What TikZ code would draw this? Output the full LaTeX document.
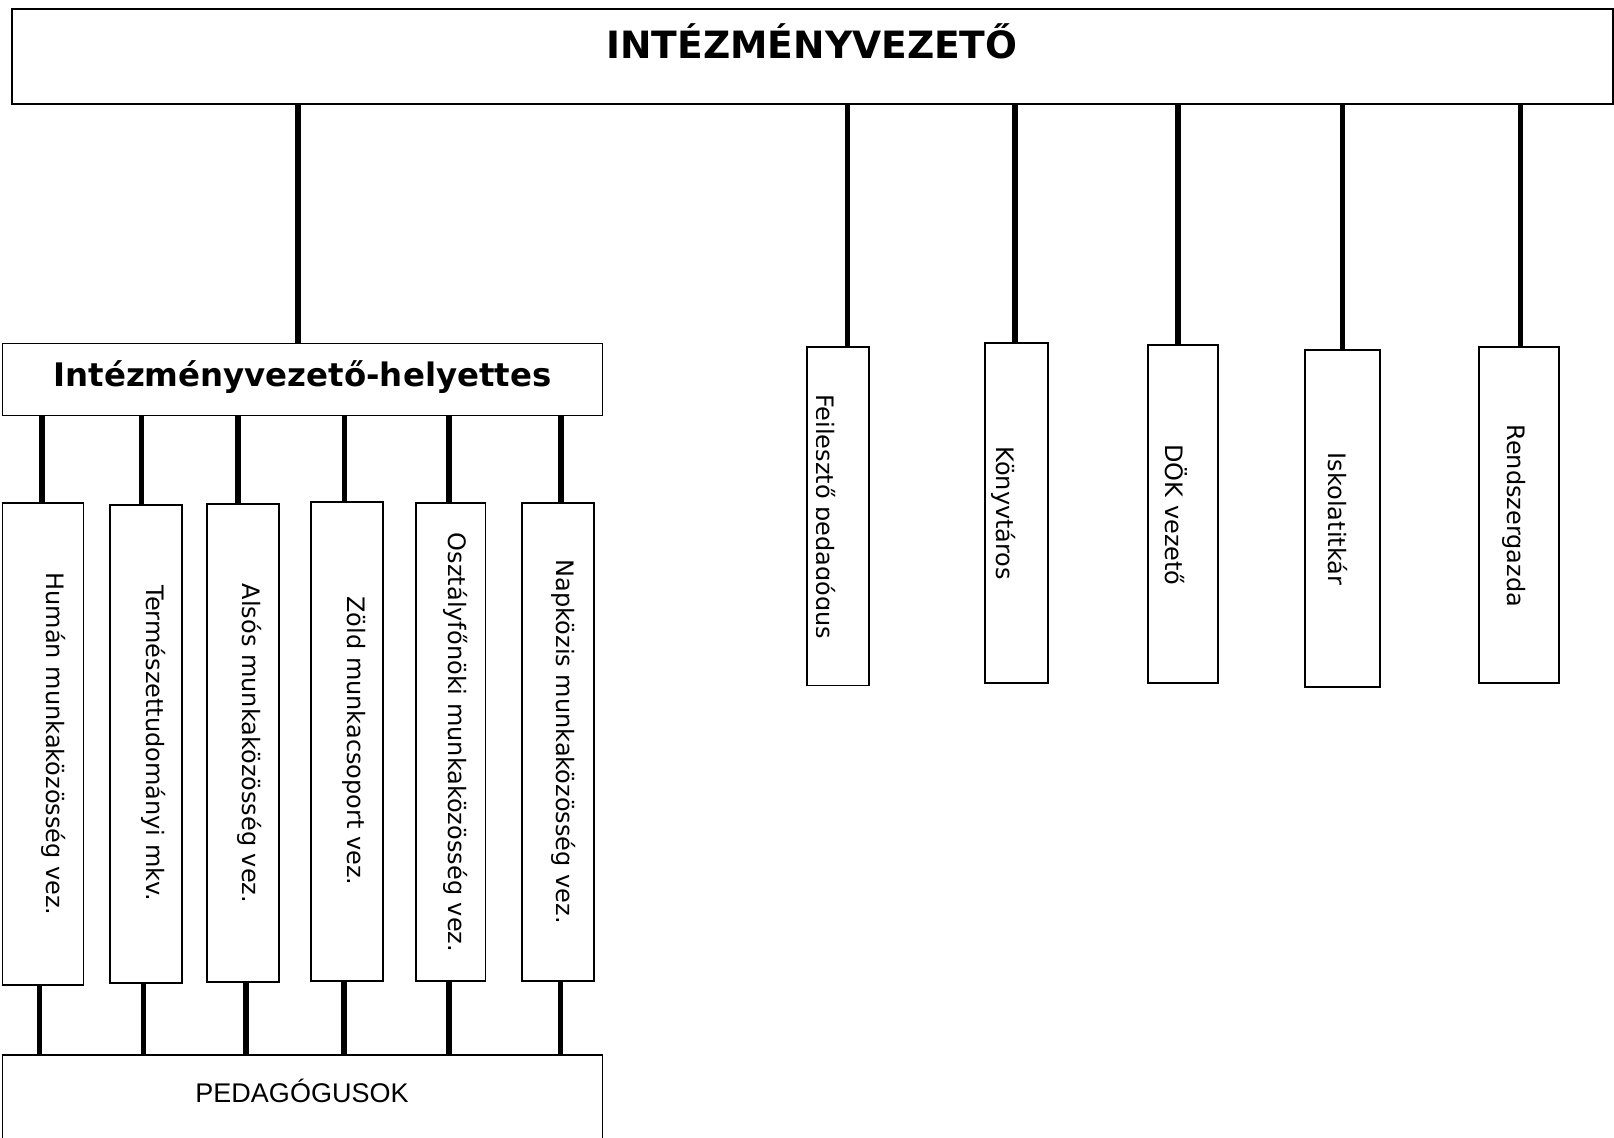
\documentclass[tikz,border=0pt]{standalone}
\usepackage{fontspec}
\setmainfont{DejaVu Sans}
\newfontfamily\pedfont{Liberation Sans}
\begin{document}
\begin{tikzpicture}[x=0.5pt,y=-0.5pt,
  box/.style={draw, line width=0.9pt, inner sep=0pt, outer sep=0pt, anchor=north west},
  conn/.style={line width=2.6pt},
  vtext/.style={rotate=-90, anchor=base, inner sep=0pt, font=\fontsize{12}{14}\selectfont}]
\useasboundingbox (0,0) rectangle (1614,1137);

% boxes
\node[box, minimum width=800.5pt, minimum height=47.8pt] (top) at (12,8.7) {};
\node[box, minimum width=300pt, minimum height=36pt] (hely) at (2.5,343.5) {};
\node[box, minimum width=40.5pt, minimum height=241.15pt] (b1) at (2.5,502.7) {};
\node[box, minimum width=36pt, minimum height=239pt] (b2) at (110,504.7) {};
\node[box, minimum width=36pt, minimum height=239pt] (b3) at (207,504) {};
\node[box, minimum width=36pt, minimum height=239.5pt] (b4) at (311,502) {};
\node[box, minimum width=34.75pt, minimum height=239.15pt] (b5) at (416,502.7) {};
\node[box, minimum width=36pt, minimum height=239.15pt] (b6) at (522,502.7) {};
\node[box, minimum width=300pt, minimum height=45pt] (ped) at (2.5,1055) {};
\node[box, minimum width=31.15pt, minimum height=169.4pt] (r1) at (806.7,346.7) {};
\node[box, minimum width=31.65pt, minimum height=170pt] (r2) at (985,343.3) {};
\node[box, minimum width=35pt, minimum height=169.15pt] (r3) at (1148.3,345) {};
\node[box, minimum width=37.65pt, minimum height=168.3pt] (r4) at (1305,350) {};
\node[box, minimum width=40.15pt, minimum height=168.3pt] (r5) at (1478.7,346.7) {};

% texts
\node[anchor=base, inner sep=0pt, font=\fontsize{18.8}{22}\selectfont\bfseries] (ttop) at (812,58.7) {INTÉZMÉNYVEZETŐ};
\node[anchor=base, inner sep=0pt, font=\fontsize{16.2}{19}\selectfont\bfseries] (thely) at (302.5,386) {Intézményvezető-helyettes};
\node[anchor=base, inner sep=0pt, font=\pedfont\fontsize{13.5}{16}\selectfont] (tped) at (302,1102.7) {PEDAGÓGUSOK};

\node[vtext] (t1) at (46.5,744) {Humán munkaközösség vez.};
\node[vtext] (t2) at (146.4,743.5) {Természettudományi mkv.};
\node[vtext] (t3) at (242.2,743.5) {Alsós munkaközösség vez.};
\node[vtext] (t4) at (347.4,741) {Zöld munkacsoport vez.};
\node[vtext] (t5) at (448.8,742.5) {Osztályfőnöki munkaközösség vez.};
\node[vtext] (t6) at (556.6,741.7) {Napközis munkaközösség vez.};

\begin{scope}
\clip (816.2,346.7) rectangle (869,685.5);
\node[vtext] (s1) at (816.7,516.7) {Fejlesztő pedagógus};
\end{scope}
\node[vtext] (s2) at (996.7,513.3) {Könyvtáros};
\node[vtext] (s3) at (1165.7,515) {DÖK vezető};
\node[vtext] (s4) at (1328.5,519) {Iskolatitkár};
\node[vtext] (s5) at (1507.3,515.8) {Rendszergazda};

% connector x positions
\coordinate (xh) at (298,0);
\coordinate (xr1) at (847.5,0);
\coordinate (xr2) at (1015,0);
\coordinate (xr3) at (1178,0);
\coordinate (xr4) at (1342.5,0);
\coordinate (xr5) at (1520.5,0);
\coordinate (xu1) at (42,0);
\coordinate (xu2) at (141.5,0);
\coordinate (xu3) at (238,0);
\coordinate (xu4) at (344.5,0);
\coordinate (xu5) at (449,0);
\coordinate (xu6) at (561,0);
\coordinate (xd1) at (39.5,0);
\coordinate (xd2) at (143.5,0);
\coordinate (xd3) at (246,0);
\coordinate (xd4) at (344,0);
\coordinate (xd5) at (449,0);
\coordinate (xd6) at (560.5,0);

% connectors
\draw[conn] (top.south -| xh) -- (hely.north -| xh);
\draw[conn] (top.south -| xr1) -- (r1.north -| xr1);
\draw[conn] (top.south -| xr2) -- (r2.north -| xr2);
\draw[conn] (top.south -| xr3) -- (r3.north -| xr3);
\draw[conn] (top.south -| xr4) -- (r4.north -| xr4);
\draw[conn] (top.south -| xr5) -- (r5.north -| xr5);

\draw[conn] (hely.south -| xu1) -- (b1.north -| xu1);
\draw[conn] (hely.south -| xu2) -- (b2.north -| xu2);
\draw[conn] (hely.south -| xu3) -- (b3.north -| xu3);
\draw[conn] (hely.south -| xu4) -- (b4.north -| xu4);
\draw[conn] (hely.south -| xu5) -- (b5.north -| xu5);
\draw[conn] (hely.south -| xu6) -- (b6.north -| xu6);

\draw[conn] (b1.south -| xd1) -- (ped.north -| xd1);
\draw[conn] (b2.south -| xd2) -- (ped.north -| xd2);
\draw[conn] (b3.south -| xd3) -- (ped.north -| xd3);
\draw[conn] (b4.south -| xd4) -- (ped.north -| xd4);
\draw[conn] (b5.south -| xd5) -- (ped.north -| xd5);
\draw[conn] (b6.south -| xd6) -- (ped.north -| xd6);
\end{tikzpicture}
\end{document}
